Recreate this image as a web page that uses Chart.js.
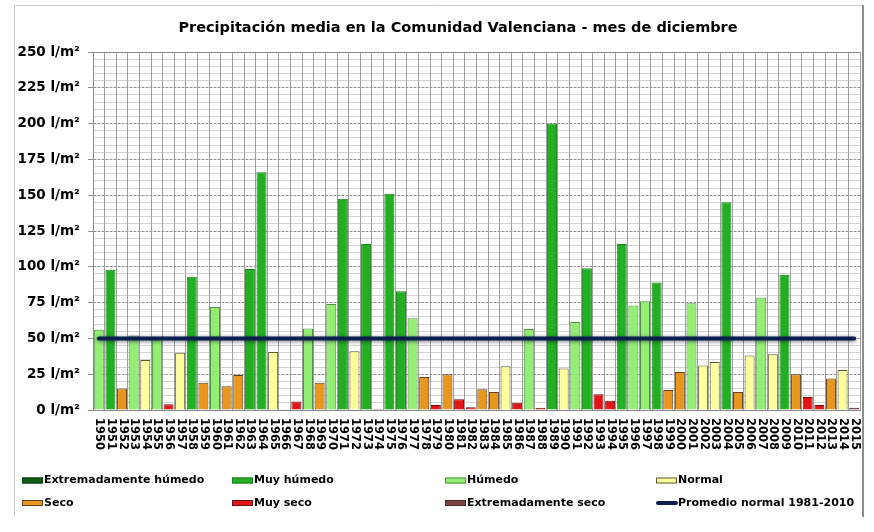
<!DOCTYPE html>
<html>
<head>
<meta charset="utf-8">
<script src="https://cdn.jsdelivr.net/npm/chart.js@4.4.1/dist/chart.umd.min.js"></script>
<style>
html,body{margin:0;padding:0;background:#ffffff;}
canvas{display:block;}
</style>
</head>
<body>
<canvas id="c" width="874" height="532"></canvas>
<script>
// ---------------- DATA ----------------
const titleText = 'Precipitación media en la Comunidad Valenciana - mes de diciembre';

const years = [
  '1950','1951','1952','1953','1954','1955','1956','1957','1958','1959',
  '1960','1961','1962','1963','1964','1965','1966','1967','1968','1969',
  '1970','1971','1972','1973','1974','1975','1976','1977','1978','1979',
  '1980','1981','1982','1983','1984','1985','1986','1987','1988','1989',
  '1990','1991','1992','1993','1994','1995','1996','1997','1998','1999',
  '2000','2001','2002','2003','2004','2005','2006','2007','2008','2009',
  '2010','2011','2012','2013','2014','2015'
];

const precipitation = [
  56, 98, 15, 52, 35, 50, 4, 40, 93, 19,
  72, 16.5, 24.5, 98.5, 166, 40.5, 0.5, 6, 57, 19,
  74, 147.5, 41, 116, 0.8, 151, 83, 64, 23, 3.5,
  25, 7.5, 2, 14.5, 12.5, 30.5, 5, 56.5, 1.5, 200,
  29, 61.5, 99, 11, 6.5, 116, 73, 76, 89, 14,
  26.5, 74.5, 31, 33.5, 145, 12.5, 38, 78.5, 39, 94.5,
  25, 9, 3.5, 22, 28, 1.5
];

// class of each year: EH extremadamente húmedo, MH muy húmedo, H húmedo, N normal,
// S seco, MS muy seco, ES extremadamente seco
const yearClass = [
  'H','MH','S','H','N','H','MS','N','MH','S',
  'H','S','S','MH','MH','N','ES','MS','H','S',
  'H','MH','N','MH','ES','MH','MH','H','S','MS',
  'S','MS','MS','S','S','N','MS','H','MS','MH',
  'N','H','MH','MS','MS','MH','H','H','MH','S',
  'S','H','N','N','MH','S','N','H','N','MH',
  'S','MS','MS','S','N','ES'
];

const classCodes  = ['EH','MH','H','N','S','MS','ES'];
const classLabels = ['Extremadamente húmedo','Muy húmedo','Húmedo','Normal','Seco','Muy seco','Extremadamente seco'];

const normalLabel = 'Promedio normal 1981-2010';
const normalValue = 50;

const yMin = 0, yMax = 250, yStep = 25, yMinorStep = 5;
const yUnit = ' l/m²';

// ---------------- STYLES ----------------
const classFill = {
  EH: '#0d5f14', MH: '#22b022', H: '#93ef74', N: '#ffff9e',
  S: '#e8961c', MS: '#e61414', ES: '#7d4242'
};
const classBorder = {
  EH: '#0a3d0e', MH: '#1b7f1b', H: '#4f8f44', N: '#5a5a3a',
  S: '#5a4020', MS: '#6a1010', ES: '#4a2a2a'
};
const lineColor = '#0b1f4e';
const FONT = '"DejaVu Sans", Verdana, sans-serif';

// ---------------- DATASETS ----------------
const barDatasets = classCodes.map((code, k) => ({
  type: 'bar',
  label: classLabels[k],
  data: precipitation.map((v, i) => yearClass[i] === code ? v : null),
  backgroundColor: classFill[code],
  borderColor: classBorder[code],
  borderWidth: 1,
  grouped: false,
  barPercentage: 0.86,
  categoryPercentage: 1.0,
  order: 2,
  yAxisID: 'y'
}));

const lineDataset = {
  type: 'line',
  label: normalLabel,
  data: years.map(() => normalValue),
  borderColor: lineColor,
  backgroundColor: lineColor,
  borderWidth: 4,
  borderCapStyle: 'round',
  pointRadius: 0,
  tension: 0,
  order: 0,
  yAxisID: 'y'
};

// ---------------- PLUGINS ----------------
const framePlugin = {
  id: 'frame',
  beforeDraw(chart) {
    const ctx = chart.ctx;
    ctx.save();
    ctx.fillStyle = '#ffffff';
    ctx.fillRect(0, 0, chart.width, chart.height);
    ctx.strokeStyle = '#c8c8c8';
    ctx.lineWidth = 1;
    ctx.beginPath();
    ctx.moveTo(14.5, 517); ctx.lineTo(14.5, 5.5); ctx.lineTo(862, 5.5);
    ctx.stroke();
    ctx.strokeStyle = '#8c8c8c';
    ctx.lineWidth = 2;
    ctx.beginPath();
    ctx.moveTo(863, 5); ctx.lineTo(863, 517);
    ctx.stroke();
    ctx.restore();
  },
  beforeDatasetsDraw(chart) {
    // solid top border of the plot area
    const ctx = chart.ctx, a = chart.chartArea;
    ctx.save();
    ctx.strokeStyle = '#8a8a8a';
    ctx.lineWidth = 1;
    ctx.beginPath();
    ctx.moveTo(a.left, Math.round(a.top) + 0.5);
    ctx.lineTo(a.right, Math.round(a.top) + 0.5);
    ctx.stroke();
    ctx.restore();
  }
};

const titlePlugin = {
  id: 'customTitle',
  afterDraw(chart) {
    const ctx = chart.ctx;
    ctx.save();
    ctx.font = 'bold 14.5px ' + FONT;
    ctx.fillStyle = '#000';
    ctx.textAlign = 'center';
    ctx.textBaseline = 'middle';
    ctx.fillText(titleText, 458, 28);
    ctx.restore();
  }
};

const xLabelPlugin = {
  id: 'xLabels',
  afterDraw(chart) {
    const ctx = chart.ctx;
    const xs = chart.scales.x;
    ctx.save();
    ctx.font = 'bold 11.5px ' + FONT;
    ctx.fillStyle = '#000';
    ctx.textAlign = 'left';
    ctx.textBaseline = 'middle';
    xs.ticks.forEach((t, i) => {
      const px = xs.getPixelForTick(i);
      ctx.save();
      ctx.translate(px + 0.5, chart.chartArea.bottom + 8);
      ctx.rotate(Math.PI / 2);
      ctx.fillText(String(chart.data.labels[i]), 0, 0);
      ctx.restore();
    });
    ctx.restore();
  }
};

const lineShadowPlugin = {
  id: 'lineShadow',
  beforeDatasetDraw(chart, args) {
    if (args.meta.type === 'line') {
      const ctx = chart.ctx;
      ctx.save();
      ctx.shadowColor = 'rgba(0,0,30,0.55)';
      ctx.shadowBlur = 4;
      ctx.shadowOffsetY = 1;
    }
  },
  afterDatasetDraw(chart, args) {
    if (args.meta.type === 'line') chart.ctx.restore();
  }
};

const legendColX = [22, 232, 445, 656];
const legendRowY = [480.5, 503];
const legendPlugin = {
  id: 'customLegend',
  afterDraw(chart) {
    const ctx = chart.ctx;
    ctx.save();
    ctx.font = 'bold 11px ' + FONT;
    ctx.textAlign = 'left';
    ctx.textBaseline = 'middle';
    chart.data.datasets.forEach((ds, i) => {
      const x = legendColX[i % 4];
      const y = legendRowY[Math.floor(i / 4)];
      if (ds.type === 'line') {
        ctx.strokeStyle = ds.borderColor;
        ctx.lineWidth = 4;
        ctx.lineCap = 'round';
        ctx.beginPath();
        ctx.moveTo(x + 2, y); ctx.lineTo(x + 20, y);
        ctx.stroke();
      } else {
        ctx.fillStyle = ds.backgroundColor;
        ctx.fillRect(x, y - 3, 21, 6);
        ctx.strokeStyle = ds.borderColor;
        ctx.lineWidth = 1;
        ctx.strokeRect(x + 0.5, y - 2.5, 20, 5);
      }
      ctx.fillStyle = '#000';
      ctx.fillText(ds.label, x + 22, y);
    });
    ctx.restore();
  }
};

// ---------------- CHART ----------------
new Chart(document.getElementById('c'), {
  data: {
    labels: years,
    datasets: [...barDatasets, lineDataset]
  },
  options: {
    responsive: false,
    animation: false,
    devicePixelRatio: 1,
    layout: { padding: { left: 0, right: 14, top: 52, bottom: 122 } },
    plugins: {
      legend: { display: false },
      title: { display: false },
      tooltip: { enabled: false }
    },
    scales: {
      x: {
        type: 'category',
        offset: true,
        ticks: { display: false, autoSkip: false },
        grid: { offset: true, color: '#a0a0a0', lineWidth: 1, drawTicks: false, z: -1 },
        border: { display: true, color: '#8a8a8a', width: 1 },
        afterFit(s) { s.height = 0; }
      },
      y: {
        type: 'linear',
        position: 'left',
        min: yMin, max: yMax,
        ticks: {
          stepSize: yStep,
          padding: 8,
          color: '#000',
          font: { family: FONT, size: 13.5, weight: 'bold' },
          callback: v => v + yUnit
        },
        grid: { color: '#8e8e8e', lineWidth: 1, tickLength: 5, tickColor: '#8e8e8e', tickBorderDash: [], z: -1 },
        border: { display: true, color: '#8a8a8a', dash: [2, 2] },
        afterFit(s) { s.width = 93; }
      },
      yMinor: {
        type: 'linear',
        position: 'left',
        min: yMin, max: yMax,
        ticks: { display: false, stepSize: yMinorStep },
        grid: { color: '#d2d2d2', lineWidth: 1, drawTicks: false, z: -2 },
        border: { display: false },
        afterFit(s) { s.width = 0; }
      }
    }
  },
  plugins: [framePlugin, lineShadowPlugin, titlePlugin, xLabelPlugin, legendPlugin]
});
</script>
</body>
</html>
